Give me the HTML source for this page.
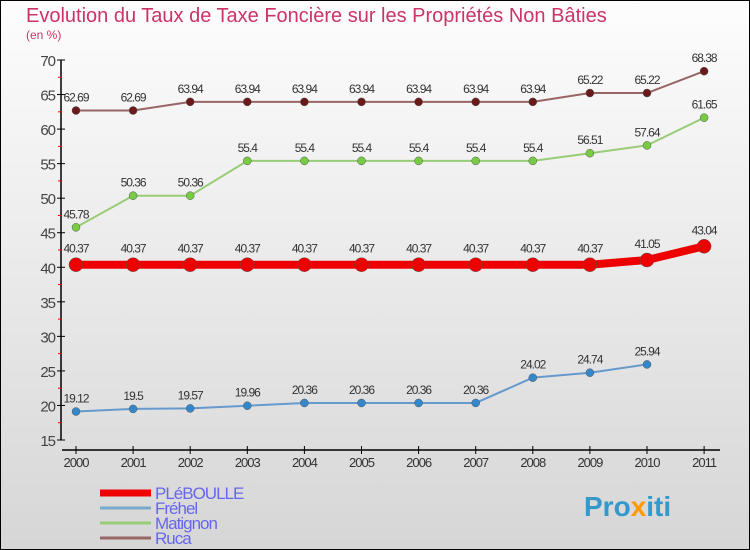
<!DOCTYPE html>
<html><head><meta charset="utf-8"><style>
body{margin:0;}
#c{width:750px;height:550px;position:relative;overflow:hidden;}
text{font-family:"Liberation Sans",sans-serif;}
</style></head><body>
<div id="c">
<svg id="s" width="750" height="550" xmlns="http://www.w3.org/2000/svg">
<defs><linearGradient id="bg" x1="0" y1="0" x2="0" y2="1"><stop offset="0" stop-color="#fdfdfd"/><stop offset="1" stop-color="#d6d6d6"/></linearGradient></defs>
<rect x="0.5" y="0.5" width="749" height="549" fill="url(#bg)" stroke="#000"/>
<text x="26" y="22" font-size="20" fill="#cc3366">Evolution du Taux de Taxe Foncière sur les Propriétés Non Bâties</text>
<text x="26" y="39" font-size="12" fill="#cc3366">(en %)</text>
<g id="axes"></g><g id="series"></g><g id="legend"></g>
<text x="584" y="516" font-size="28" font-weight="bold" fill="#3399cc">Pro<tspan fill="#ff9900">x</tspan>iti</text>
</svg></div>
<script>
const years=["2000","2001","2002","2003","2004","2005","2006","2007","2008","2009","2010","2011"];
const yTicks=[15,20,25,30,35,40,45,50,55,60,65,70];
const pleboulle=[40.37,40.37,40.37,40.37,40.37,40.37,40.37,40.37,40.37,40.37,41.05,43.04];
const frehel=[19.12,19.5,19.57,19.96,20.36,20.36,20.36,20.36,24.02,24.74,25.94,null];
const matignon=[45.78,50.36,50.36,55.4,55.4,55.4,55.4,55.4,55.4,56.51,57.64,61.65];
const ruca=[62.69,62.69,63.94,63.94,63.94,63.94,63.94,63.94,63.94,65.22,65.22,68.38];
const names=["PLéBOULLE","Fréhel","Matignon","Ruca"];
const NS="http://www.w3.org/2000/svg";
const X=i=>76+i*57.1;
const Y=v=>440-(v-15)*(380/55);
function el(t,a,p){const e=document.createElementNS(NS,t);for(const k in a)e.setAttribute(k,a[k]);p.appendChild(e);return e;}
const ax=document.getElementById('axes');
const ya=el('line',{x1:61,y1:60,x2:61,y2:440,stroke:'#000','stroke-width':1.5},ax);


yTicks.forEach(v=>{
  el('line',{x1:57,x2:65,y1:Y(v),y2:Y(v),stroke:'#000'},ax);
  if(v<70) el('line',{x1:58,x2:62,y1:Y(v+2.5),y2:Y(v+2.5),stroke:'#e00'},ax);
  const t=el('text',{x:55,y:Y(v)+6,'font-size':15,'text-anchor':'end',fill:'#444','letter-spacing':'-1'},ax);
  t.textContent=v;
  
  
});
const xa=el('line',{x1:62,y1:450,x2:720,y2:450,stroke:'#000','stroke-width':1.5},ax);


years.forEach((y,i)=>{
  el('line',{x1:X(i),x2:X(i),y1:446,y2:454,stroke:'#000'},ax);
  const t=el('text',{x:X(i),y:467,'font-size':13,'text-anchor':'middle',fill:'#333','letter-spacing':'-1'},ax);
  t.textContent=y;
  
  
});
const sg=document.getElementById('series');
function series(data,line,dot,w,r,name){
  const g=el('g',{},sg);
  
  
  const pts=data.map((v,i)=>v==null?null:[X(i),Y(v)]).filter(p=>p);
  const pl=el('polyline',{points:pts.map(p=>p.join(',')).join(' '),fill:'none',stroke:line,'stroke-width':w,'stroke-linejoin':'round'},g);
  
  
  data.forEach((v,i)=>{if(v==null)return;
    const c=el('circle',{cx:X(i),cy:Y(v),r:r,fill:dot,stroke:'#555','stroke-width':0.5},g);
    
    
    const t=el('text',{x:X(i),y:Y(v)-(r+5),'font-size':12,'text-anchor':'middle',fill:'#333','letter-spacing':'-1'},g);
    t.textContent=String(v);
    
    
  });
}
series(ruca,'#996666','#6b1a1a',2,4,'ruca');
series(matignon,'#99cc77','#77cc44',2,4,'matignon');
series(frehel,'#6699cc','#3388cc',2,4,'frehel');
series(pleboulle,'#ee0000','#ee0000',8,7,'pleboulle');
const lg=document.getElementById('legend');
const lc=['#ee0000','#77aacc','#99cc77','#996666'],lw=[7,3,3,3];
names.forEach((n,i)=>{
  const yy=493+i*15;
  const l=el('line',{x1:100,x2:151,y1:yy,y2:yy,stroke:lc[i],'stroke-width':lw[i]},lg);
  
  
  const t=el('text',{x:155,y:yy+6,'font-size':17,fill:'#6666ee','letter-spacing':'-1'},lg);
  t.textContent=n;
  
  
});
</script>
</body></html>
